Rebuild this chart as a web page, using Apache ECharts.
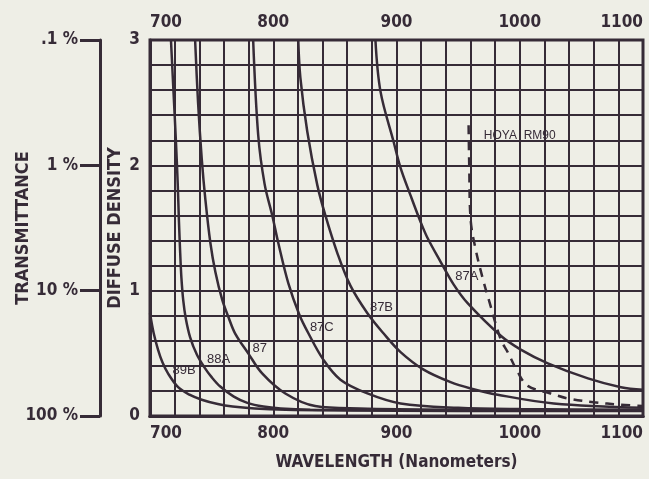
<!DOCTYPE html>
<html>
<head>
<meta charset="utf-8">
<script src="https://cdn.jsdelivr.net/npm/echarts@6/dist/echarts.min.js"></script>
<style>
  html, body { margin: 0; padding: 0; background: #eeeee6; }
  #chart { width: 649px; height: 479px; }
</style>
</head>
<body>
<div id="chart"></div>
<script>
// wavelength (nm) / diffuse density pairs
var wl89B  = [700, 703, 706.5, 710, 714.6, 722.8, 732, 742, 755, 767, 785, 810, 850, 950, 1100];
var den89B = [0.82, 0.66, 0.53, 0.43, 0.34, 0.23, 0.17, 0.13, 0.095, 0.075, 0.06, 0.05, 0.045, 0.04, 0.04];

var wl88A  = [717, 719, 721, 722.5, 723.5, 724.5, 725.5, 727, 729, 732.5, 738, 744, 750, 757, 768, 779, 792, 806, 830, 900, 1100];
var den88A = [3.0, 2.6, 2.2, 1.85, 1.55, 1.3, 1.1, 0.92, 0.78, 0.63, 0.49, 0.39, 0.31, 0.235, 0.155, 0.105, 0.075, 0.06, 0.05, 0.045, 0.045];

var wl87   = [736.6, 739, 742, 745, 749, 753, 758.5, 764, 769, 779.7, 791, 809.8, 834, 870, 950, 1100];
var den87  = [3.0, 2.5, 2.05, 1.72, 1.38, 1.15, 0.93, 0.78, 0.66, 0.5, 0.34, 0.18, 0.08, 0.06, 0.05, 0.045];

var wl87C  = [783.7, 787.8, 793, 799.2, 804.1, 812.2, 821.1, 828.5, 840.6, 854.5, 876.4, 903.3, 950, 1000, 1100];
var den87C = [3.0, 2.24, 1.85, 1.6, 1.38, 1.06, 0.81, 0.66, 0.45, 0.29, 0.18, 0.1, 0.065, 0.055, 0.05];

var wl87B  = [820.3, 822, 827.6, 835.8, 842.3, 852, 862.6, 876.4, 889.4, 903.3, 922, 943.9, 960.2, 982.1, 1027.6, 1100];
var den87B = [3.0, 2.7, 2.27, 1.84, 1.6, 1.3, 1.04, 0.82, 0.66, 0.51, 0.37, 0.27, 0.22, 0.17, 0.1, 0.065];

var wl87A  = [882.9, 887, 897.6, 903.3, 911.4, 919.5, 925.2, 935.8, 946.3, 957.7, 984.6, 1000.8, 1022.8, 1055.3, 1082.1, 1100];
var den87A = [3.0, 2.59, 2.19, 1.98, 1.76, 1.55, 1.42, 1.23, 1.05, 0.9, 0.64, 0.53, 0.42, 0.3, 0.23, 0.21];

var wlHoya  = [958.5, 959, 960.2, 964.2, 969.9, 974.8, 984.6, 990.2, 998.4, 1006.5, 1025, 1039, 1060, 1082, 1100];
var denHoya = [2.32, 2.0, 1.56, 1.33, 1.1, 0.93, 0.61, 0.51, 0.35, 0.24, 0.18, 0.14, 0.11, 0.09, 0.08];

// curve names and where their labels sit (nm, density)
var filterNames = ['89B', '88A', '87', '87C', '87B', '87A', 'HOYA  RM90'];
var labelWl  = [727.6, 755.7, 789, 839.4, 887.8, 957, 1000];
var labelDen = [0.36, 0.455, 0.54, 0.71, 0.87, 1.11, 2.24];

// tick labels
var wlTicks = [700, 800, 900, 1000, 1100];
var densityTicks = ['0', '1', '2', '3'];
var transTicks = ['100 %', '10 %', '1 %', '.1 %'];

var ink = '#362b37';
var axisFont = "'DejaVu Sans Condensed', 'Liberation Sans', sans-serif";

function zip(xs, ys) {
    return xs.map(function(x, i) { return [x, ys[i]]; });
}

var curves = [
    zip(wl89B, den89B), zip(wl88A, den88A), zip(wl87, den87), zip(wl87C, den87C),
    zip(wl87B, den87B), zip(wl87A, den87A), zip(wlHoya, denHoya)
];

var myChart = echarts.init(document.getElementById('chart'));

var wlLabel = function(v) { return wlTicks.indexOf(v) >= 0 ? String(v) : ''; };
var boldText = { color: ink, fontFamily: axisFont, fontWeight: 'bold', fontSize: 17 };

var series = curves.map(function(data, i) {
    var dashed = i === curves.length - 1;
    return {
        name: filterNames[i],
        type: 'line',
        data: data,
        symbol: 'none',
        smooth: 0.35,
        z: 5,
        lineStyle: { color: ink, width: 2.5, type: dashed ? [9, 7] : 'solid' },
        markPoint: {
            symbol: 'circle',
            symbolSize: 0,
            silent: true,
            label: {
                show: true,
                position: 'inside',
                formatter: filterNames[i],
                color: ink,
                fontFamily: "'Liberation Sans', sans-serif",
                fontSize: dashed ? 12 : 13
            },
            data: [{ coord: [labelWl[i], labelDen[i]] }]
        }
    };
});

var option = {
    backgroundColor: '#eeeee6',
    animation: false,
    grid: {
        left: 150, right: 6, top: 40, bottom: 63,
        outerBoundsMode: 'none',
        containLabel: false,
        show: true, borderColor: ink, borderWidth: 3
    },
    xAxis: [{
        type: 'value',
        position: 'bottom',
        min: 700, max: 1100, interval: 20,
        axisLine: { show: true, lineStyle: { color: ink, width: 3 } },
        axisTick: { show: false },
        axisLabel: Object.assign({ formatter: wlLabel, margin: 9, alignMinLabel: 'left', alignMaxLabel: 'right' }, boldText),
        splitLine: { show: true, lineStyle: { color: ink, width: 2 } },
        name: 'WAVELENGTH (Nanometers)',
        nameLocation: 'middle',
        nameGap: 38,
        nameTextStyle: boldText
    }, {
        type: 'value',
        position: 'top',
        min: 700, max: 1100, interval: 20,
        axisLine: { show: true, lineStyle: { color: ink, width: 3 } },
        axisTick: { show: false },
        axisLabel: Object.assign({ formatter: wlLabel, margin: 9, alignMinLabel: 'left', alignMaxLabel: 'right' }, boldText),
        splitLine: { show: false }
    }],
    yAxis: [{
        type: 'value',
        position: 'left',
        min: 0, max: 3, interval: 0.2,
        axisLine: { show: true, lineStyle: { color: ink, width: 3 } },
        axisTick: { show: false },
        axisLabel: Object.assign({
            margin: 10,
            formatter: function(v) {
                var r = Math.round(v);
                return Math.abs(v - r) < 1e-6 ? densityTicks[r] : '';
            }
        }, boldText),
        splitLine: { show: true, lineStyle: { color: ink, width: 2 } },
        name: 'DIFFUSE DENSITY',
        nameLocation: 'middle',
        nameMoveOverlap: false,
        nameGap: 26,
        nameTextStyle: Object.assign({}, boldText, { fontSize: 18 })
    }, {
        type: 'value',
        position: 'left',
        offset: 50,
        min: 0, max: 3, interval: 1,
        axisLine: { show: true, lineStyle: { color: ink, width: 3 } },
        axisTick: { show: true, inside: false, length: 20, lineStyle: { color: ink, width: 3 } },
        axisLabel: Object.assign({
            margin: 22,
            formatter: function(v) { return transTicks[Math.round(v)]; }
        }, boldText),
        splitLine: { show: false },
        name: 'TRANSMITTANCE',
        nameLocation: 'middle',
        nameMoveOverlap: false,
        nameGap: 68,
        nameTextStyle: Object.assign({}, boldText, { fontSize: 18 })
    }],
    series: series
};

myChart.setOption(option);
</script>
</body>
</html>
